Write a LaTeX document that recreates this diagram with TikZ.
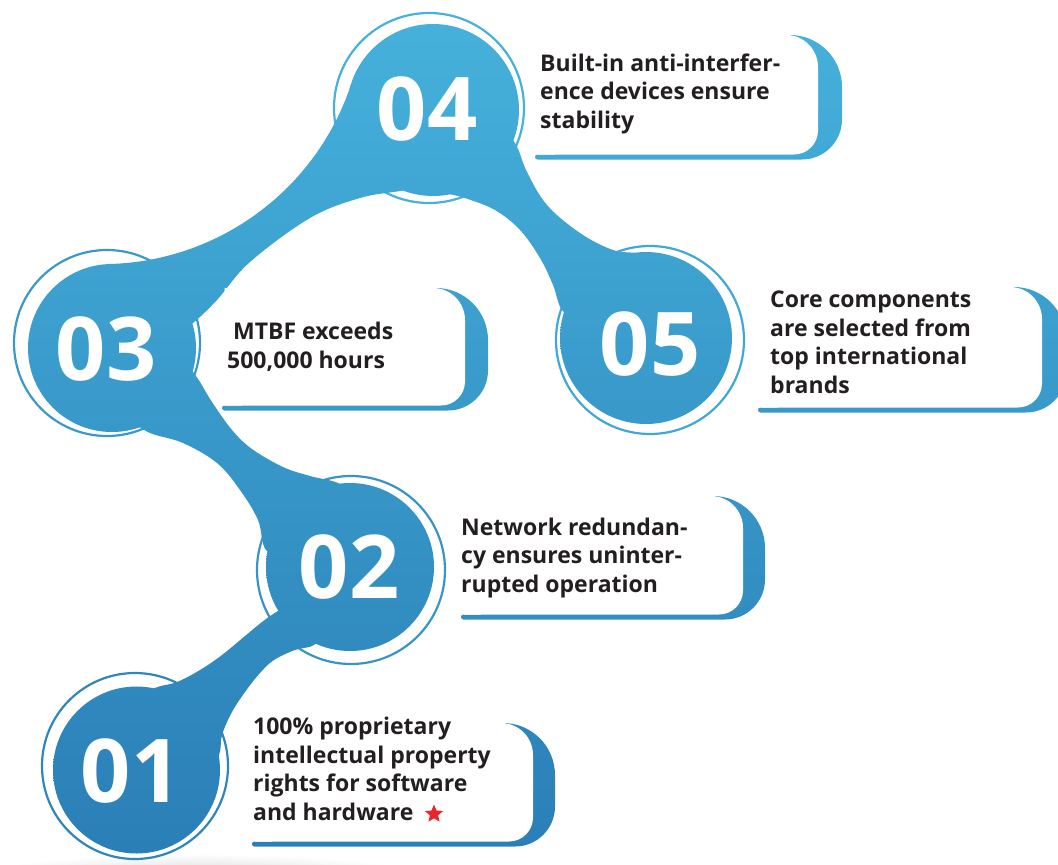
\documentclass[tikz,border=0pt]{standalone}
\usepackage{fontspec}
\setmainfont{Open Sans}
\newfontfamily\numfont{Open Sans}
\usetikzlibrary{shapes.geometric}

\definecolor{blobtop}{HTML}{46B2DC}
\definecolor{blobbottom}{HTML}{2A7EB6}
\definecolor{ringA}{HTML}{47B0DB}
\definecolor{ringB}{HTML}{40A8D6}
\definecolor{ringC}{HTML}{3A98CA}
\definecolor{ringD}{HTML}{3894C6}
\definecolor{ringE}{HTML}{2F86BC}
\definecolor{ink}{HTML}{231F20}
\definecolor{starred}{HTML}{E8262B}

\begin{document}
\begin{tikzpicture}[x=1pt,y=-1pt,
  blob/.style={path picture={\shade[top color=blobtop,bottom color=blobbottom]
      (0,0) rectangle (1058,865);}},
  ring/.style={draw=#1, line width=2.2pt},
  numeral/.style={text=white, font=\numfont\bfseries\fontsize{88}{88}\selectfont,
      inner sep=0pt, anchor=base},
  label/.style={text=ink, font=\bfseries\fontsize{23}{28.5}\selectfont,
      inner sep=0pt, anchor=base west, align=left},
]
\useasboundingbox (0,0) rectangle (1058,865);
\clip (0,0) rectangle (1058,865);

% soft floor shadow under the first bubble
\shade[inner color=black!14, outer color=white] (200,874) ellipse[x radius=215, y radius=20];

% thin outline rings behind the bubbles
\draw[ring=ringA] (429,108) circle[radius=95];
\draw[ring=ringB] (650,340) circle[radius=94];
\draw[ring=ringC] (107,343) circle[radius=93];
\draw[ring=ringD] (351,570) circle[radius=94];
\draw[ring=ringE] (135,766) circle[radius=93];

% bubbles
\path[blob] (433,110) circle[radius=86];
\path[blob] (646,338) circle[radius=86];
\path[blob] (112,348) circle[radius=84];
\path[blob] (350,567) circle[radius=84];
\path[blob] (136.5,770) circle[radius=83.5];

% necks joining the bubbles
\path[blob] (112,300) -- (109.6,264) arc[start angle=88.4, end angle=18.05, radius=262]
  -- (400,130) -- plot[smooth, tension=0.6] coordinates {(430,185) (400,191) (360,198)
  (310,218) (250,262) (217,300) (193,323) (180,330)} -- cycle;
\path[blob] plot[smooth, tension=0.6] coordinates {(495,120) (515,143) (527,172) (547,205)
  (580,233) (613,250) (640,254) (650,265)} -- (600,320)
  -- plot[smooth, tension=0.6] coordinates {(580,320) (562,310) (553,285) (540,258)
  (520,230) (495,210) (465,198) (440,190) (430,170)} -- cycle;
\path[blob] plot[smooth, tension=0.6] coordinates {(175,350) (190,368) (200,382) (212,402)
  (232,430) (252,449) (283,467) (310,476) (340,484) (350,500)} -- (300,540)
  -- plot[smooth, tension=0.6] coordinates {(290,560) (266,550) (258,520) (240,490)
  (217,463) (183,443) (150,433) (130,420)} -- cycle;
\path[blob] plot[smooth, tension=0.6] coordinates {(300,600) (278,611) (262,622) (245,636)
  (222,655) (200,670) (177,682) (155,688) (140,700)} -- (170,760)
  -- plot[smooth, tension=0.6] coordinates {(205,775) (219,755) (222,735) (232,712)
  (245,692) (260,673) (274,660) (295,650) (314,645) (325,630)} -- cycle;

% label cards: blue backing (#1 left, #2 top, #3 bottom rule, #4 blue right, #5 white right)
\newcommand\cardback[5]{%
  \path[blob] (#1+2.5,#3+2.5) -- (#4-40,#3+2.5) arc[start angle=90, end angle=0, radius=40]
    -- (#4,#2+52) arc[start angle=0, end angle=-90, radius=52] -- (#1+20,#2)
    -- (#1+20,#3-2.5) -- (#1+2.5,#3-2.5) arc[start angle=270, end angle=90, radius=2.5] -- cycle;
  \fill[white] (#1+2.5,#2) -- (#5-32,#2) arc[start angle=-90, end angle=0, radius=32]
    -- (#5,#3-2.5-24) arc[start angle=0, end angle=90, radius=24] -- (#1+2.5,#3-2.5) -- cycle;}
\cardback{535}{35}{157}{842}{818}
\cardback{222}{288}{408}{488}{465}
\cardback{758}{287}{410}{1066}{1042}
\cardback{461}{496}{617}{765}{743}
\cardback{252}{723}{844}{555}{533}

% numerals
\node[numeral] (n4) at (427,140) {04};
\node[numeral] (n3) at (106,380) {03};
\node[numeral] (n5) at (650,375) {05};
\node[numeral] (n2) at (349,598) {02};
\node[numeral] (n1) at (131,802) {01};

% card texts (anchored on the baseline of their last line)
\node[label] (t4) at (540,128) {Built-in anti-interfer-\\ence devices ensure\\stability};
\node[label] (t3) at (227,368) {\hspace{6pt}MTBF exceeds\\500,000 hours};
\node[label] (t5) at (770,393) {Core components\\are selected from\\top international\\brands};
\node[label] (t2) at (461,592) {Network redundan-\\cy ensures uninter-\\rupted operation};
\node[label] (t1) at (253,820) {100\% proprietary\\intellectual property\\rights for software\\and hardware};
\node[star, star points=5, star point ratio=2.2, fill=starred, minimum size=19pt,
      inner sep=0pt] (mark1) at (434,814) {};
\end{tikzpicture}
\end{document}
